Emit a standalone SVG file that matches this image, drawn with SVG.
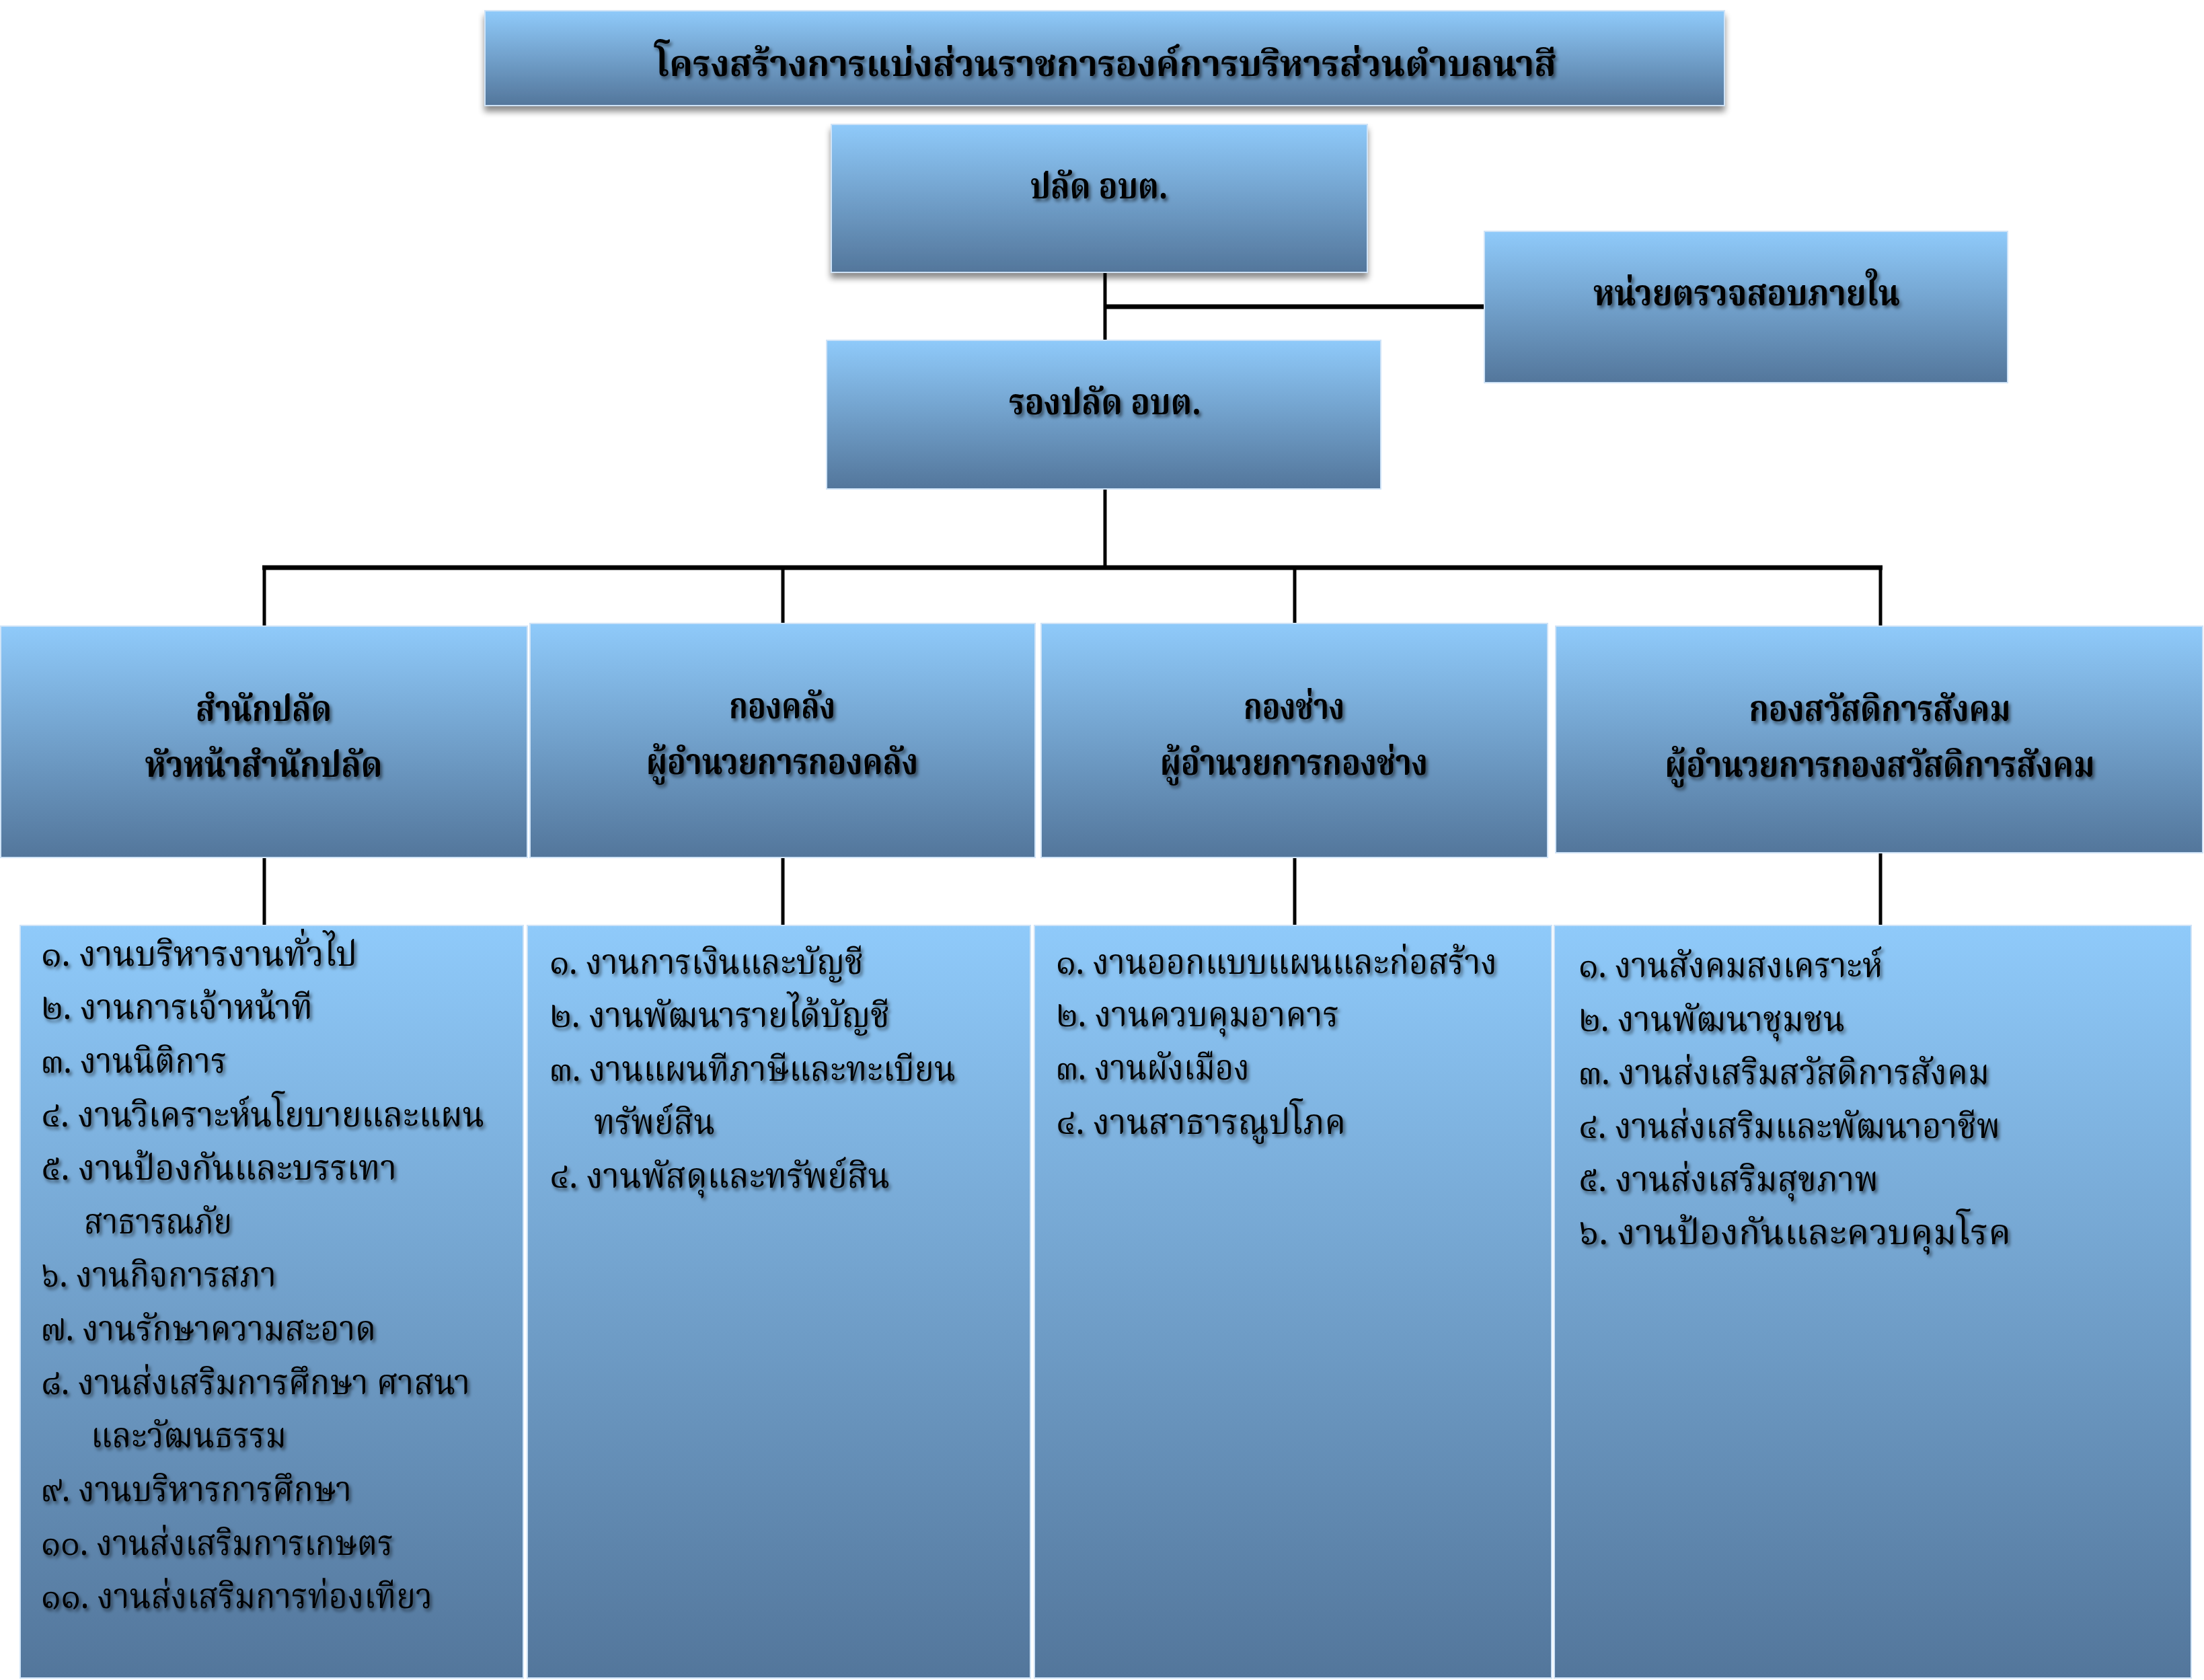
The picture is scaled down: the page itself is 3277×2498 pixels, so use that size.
<svg xmlns="http://www.w3.org/2000/svg" width="3277" height="2498" viewBox="0 0 3277 2498">
<defs>
<linearGradient id="gb" x1="0" y1="0" x2="0" y2="1">
<stop offset="0" stop-color="#8FCAFA"/>
<stop offset="1" stop-color="#53769B"/>
</linearGradient>
<filter id="ts" x="-5%" y="-30%" width="110%" height="160%">
<feDropShadow dx="3" dy="4" stdDeviation="2.5" flood-color="#000" flood-opacity="0.55"/>
</filter>
<filter id="bs" x="-5%" y="-10%" width="110%" height="130%">
<feDropShadow dx="0" dy="8" stdDeviation="5" flood-color="#000" flood-opacity="0.45"/>
</filter>
<style>
.box{fill:url(#gb);stroke:#CFE3F7;stroke-width:2}
.t{font-family:'Noto Serif Thai','Noto Sans Thai','Tlwg Typo','Garuda','Loma','Noto Sans','DejaVu Sans',sans-serif;fill:#000;filter:url(#ts)}
.h{font-weight:bold;font-size:54px;text-anchor:middle}
.b{font-size:52px}
.ln{stroke:#000;fill:none}
</style>
</defs>
<g id="connectors">
<line class="ln" x1="1643" y1="405" x2="1643" y2="506" stroke-width="5"/>
<line class="ln" x1="1643" y1="456" x2="2207" y2="456" stroke-width="7"/>
<line class="ln" x1="1643" y1="727" x2="1643" y2="847" stroke-width="5"/>
<line class="ln" x1="390" y1="844" x2="2799" y2="844" stroke-width="7"/>
<line class="ln" x1="393" y1="844" x2="393" y2="931" stroke-width="5"/>
<line class="ln" x1="1164" y1="844" x2="1164" y2="927" stroke-width="5"/>
<line class="ln" x1="1925" y1="844" x2="1925" y2="927" stroke-width="5"/>
<line class="ln" x1="2796" y1="844" x2="2796" y2="931" stroke-width="5"/>
<line class="ln" x1="393" y1="1275" x2="393" y2="1376" stroke-width="5"/>
<line class="ln" x1="1164" y1="1275" x2="1164" y2="1376" stroke-width="5"/>
<line class="ln" x1="1925" y1="1275" x2="1925" y2="1376" stroke-width="5"/>
<line class="ln" x1="2796" y1="1268" x2="2796" y2="1376" stroke-width="5"/>
</g>
<g id="title">
<rect class="box" x="721" y="16" width="1843" height="141" filter="url(#bs)" stroke="none"/>
<text class="t h" x="1644" y="113" textLength="1340" lengthAdjust="spacingAndGlyphs" font-size="62">โครงสร้างการแบ่งส่วนราชการองค์การบริหารส่วนตำบลนาสี</text>
</g>
<g id="node-palad">
<rect class="box" x="1236" y="185" width="797" height="220" filter="url(#bs)" stroke="none"/>
<text class="t h" x="1634" y="295" textLength="205" lengthAdjust="spacingAndGlyphs" font-size="58">ปลัด อบต.</text>
</g>
<g id="node-audit">
<rect class="box" x="2207" y="344" width="778" height="225"/>
<text class="t h" x="2597" y="454" textLength="456" lengthAdjust="spacingAndGlyphs" font-size="58">หน่วยตรวจสอบภายใน</text>
</g>
<g id="node-deputy">
<rect class="box" x="1229" y="506" width="824" height="221"/>
<text class="t h" x="1643" y="616" textLength="286" lengthAdjust="spacingAndGlyphs" font-size="58">รองปลัด อบต.</text>
</g>
<g id="node-office">
<rect class="box" x="1" y="931" width="783" height="344"/>
<text class="t h" x="392" y="1072" textLength="202" lengthAdjust="spacingAndGlyphs">สำนักปลัด</text>
<text class="t h" x="392" y="1155" textLength="353" lengthAdjust="spacingAndGlyphs">หัวหน้าสำนักปลัด</text>
</g>
<g id="node-finance">
<rect class="box" x="788" y="927" width="751" height="348"/>
<text class="t h" x="1163" y="1068" textLength="158" lengthAdjust="spacingAndGlyphs">กองคลัง</text>
<text class="t h" x="1163" y="1151" textLength="404" lengthAdjust="spacingAndGlyphs">ผู้อำนวยการกองคลัง</text>
</g>
<g id="node-works">
<rect class="box" x="1548" y="927" width="753" height="348"/>
<text class="t h" x="1924" y="1069" textLength="150" lengthAdjust="spacingAndGlyphs">กองช่าง</text>
<text class="t h" x="1924" y="1152" textLength="398" lengthAdjust="spacingAndGlyphs">ผู้อำนวยการกองช่าง</text>
</g>
<g id="node-welfare">
<rect class="box" x="2313" y="931" width="962" height="337"/>
<text class="t h" x="2795" y="1072" textLength="389" lengthAdjust="spacingAndGlyphs">กองสวัสดิการสังคม</text>
<text class="t h" x="2795" y="1155" textLength="639" lengthAdjust="spacingAndGlyphs">ผู้อำนวยการกองสวัสดิการสังคม</text>
</g>
<g id="list-office">
<rect class="box" x="30" y="1376" width="748" height="1119"/>
<text class="t b" x="61" y="1436" textLength="470" lengthAdjust="spacingAndGlyphs">๑. งานบริหารงานทั่วไป</text>
<text class="t b" x="61" y="1515" textLength="404" lengthAdjust="spacingAndGlyphs">๒. งานการเจ้าหน้าที</text>
<text class="t b" x="61" y="1595" textLength="276" lengthAdjust="spacingAndGlyphs">๓. งานนิติการ</text>
<text class="t b" x="61" y="1675" textLength="659" lengthAdjust="spacingAndGlyphs">๔. งานวิเคราะห์นโยบายและแผน</text>
<text class="t b" x="61" y="1754" textLength="529" lengthAdjust="spacingAndGlyphs">๕. งานป้องกันและบรรเทา</text>
<text class="t b" x="125" y="1834" textLength="220" lengthAdjust="spacingAndGlyphs">สาธารณภัย</text>
<text class="t b" x="61" y="1913" textLength="350" lengthAdjust="spacingAndGlyphs">๖. งานกิจการสภา</text>
<text class="t b" x="61" y="1993" textLength="498" lengthAdjust="spacingAndGlyphs">๗. งานรักษาความสะอาด</text>
<text class="t b" x="61" y="2073" textLength="638" lengthAdjust="spacingAndGlyphs">๘. งานส่งเสริมการศึกษา ศาสนา</text>
<text class="t b" x="135" y="2152" textLength="291" lengthAdjust="spacingAndGlyphs">และวัฒนธรรม</text>
<text class="t b" x="61" y="2232" textLength="462" lengthAdjust="spacingAndGlyphs">๙. งานบริหารการศึกษา</text>
<text class="t b" x="61" y="2312" textLength="524" lengthAdjust="spacingAndGlyphs">๑๐. งานส่งเสริมการเกษตร</text>
<text class="t b" x="61" y="2391" textLength="582" lengthAdjust="spacingAndGlyphs">๑๑. งานส่งเสริมการท่องเทียว</text>
</g>
<g id="list-finance">
<rect class="box" x="784" y="1376" width="748" height="1119"/>
<text class="t b" x="817" y="1448" textLength="467" lengthAdjust="spacingAndGlyphs">๑. งานการเงินและบัญชี</text>
<text class="t b" x="817" y="1527" textLength="506" lengthAdjust="spacingAndGlyphs">๒. งานพัฒนารายได้บัญชี</text>
<text class="t b" x="817" y="1607" textLength="604" lengthAdjust="spacingAndGlyphs">๓. งานแผนทีภาษีและทะเบียน</text>
<text class="t b" x="883" y="1686" textLength="180" lengthAdjust="spacingAndGlyphs">ทรัพย์สิน</text>
<text class="t b" x="817" y="1766" textLength="506" lengthAdjust="spacingAndGlyphs">๔. งานพัสดุและทรัพย์สิน</text>
</g>
<g id="list-works">
<rect class="box" x="1538" y="1376" width="769" height="1119"/>
<text class="t b" x="1570" y="1448" textLength="656" lengthAdjust="spacingAndGlyphs">๑. งานออกแบบแผนและก่อสร้าง</text>
<text class="t b" x="1570" y="1526" textLength="421" lengthAdjust="spacingAndGlyphs">๒. งานควบคุมอาคาร</text>
<text class="t b" x="1570" y="1605" textLength="288" lengthAdjust="spacingAndGlyphs">๓. งานผังเมือง</text>
<text class="t b" x="1570" y="1686" textLength="431" lengthAdjust="spacingAndGlyphs">๔. งานสาธารณูปโภค</text>
</g>
<g id="list-welfare">
<rect class="box" x="2311" y="1376" width="947" height="1119"/>
<text class="t b" x="2347" y="1453" textLength="452" lengthAdjust="spacingAndGlyphs">๑. งานสังคมสงเคราะห์</text>
<text class="t b" x="2347" y="1533" textLength="396" lengthAdjust="spacingAndGlyphs">๒. งานพัฒนาชุมชน</text>
<text class="t b" x="2347" y="1612" textLength="611" lengthAdjust="spacingAndGlyphs">๓. งานส่งเสริมสวัสดิการสังคม</text>
<text class="t b" x="2347" y="1692" textLength="627" lengthAdjust="spacingAndGlyphs">๔. งานส่งเสริมและพัฒนาอาชีพ</text>
<text class="t b" x="2347" y="1771" textLength="446" lengthAdjust="spacingAndGlyphs">๕. งานส่งเสริมสุขภาพ</text>
<text class="t b" x="2347" y="1850" textLength="643" lengthAdjust="spacingAndGlyphs">๖. งานป้องกันและควบคุมโรค</text>
</g>
</svg>
